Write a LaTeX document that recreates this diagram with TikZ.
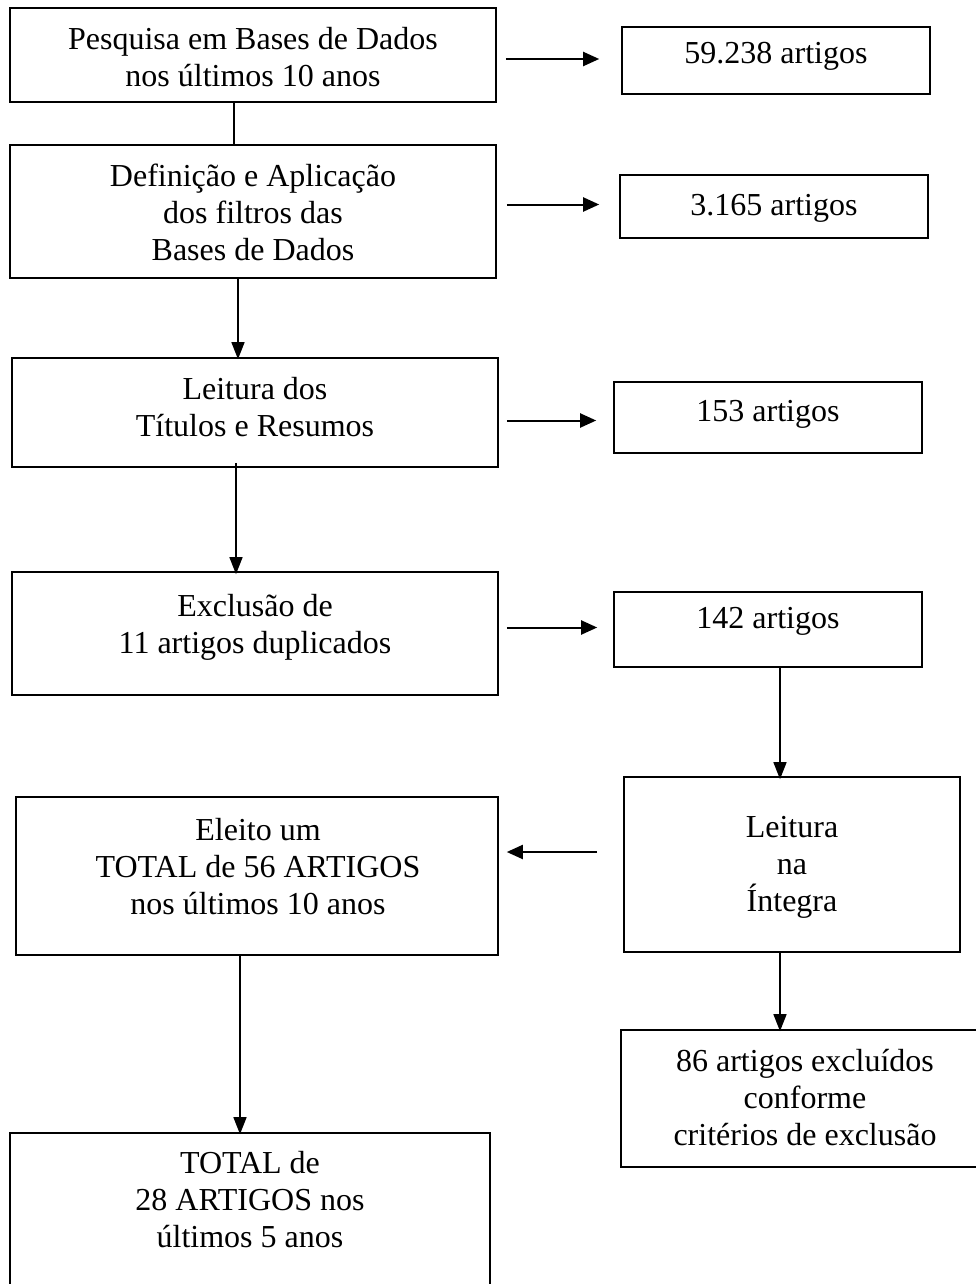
\documentclass[tikz,border=0pt]{standalone}
\usepackage{fontspec}
\setmainfont{Liberation Serif}
\usetikzlibrary{arrows.meta}
\begin{document}
\begin{tikzpicture}[x=1pt,y=-1pt,
  box/.style={draw,line width=1.6pt,inner sep=0pt},
  txt/.style={align=center,inner sep=0pt,font=\fontsize{32}{37}\selectfont},
  arr/.style={line width=1.4pt,-{Triangle[length=17pt,width=13pt]}},
  harr/.style={line width=2pt,-{Triangle[length=16pt,width=14pt]}},
  ln/.style={line width=1.4pt}]
\clip (0,0) rectangle (976,1284);
\useasboundingbox (0,0) rectangle (976,1284);
% boxes
\node[box,minimum width=486pt,minimum height=94pt] (b1) at (253,55) {};
\node[box,minimum width=308pt,minimum height=67pt] (n1) at (776,60.5) {};
\node[box,minimum width=486pt,minimum height=133pt] (b2) at (253,211.5) {};
\node[box,minimum width=308pt,minimum height=63pt] (n2) at (774,206.5) {};
\node[box,minimum width=486pt,minimum height=109pt] (b3) at (255,412.5) {};
\node[box,minimum width=308pt,minimum height=71pt] (n3) at (768,417.5) {};
\node[box,minimum width=486pt,minimum height=123pt] (b4) at (255,633.5) {};
\node[box,minimum width=308pt,minimum height=75pt] (n4) at (768,629.5) {};
\node[box,minimum width=336pt,minimum height=175pt] (b5) at (792,864.5) {};
\node[box,minimum width=482pt,minimum height=158pt] (b6) at (257,876) {};
\node[box,minimum width=480pt,minimum height=170pt] (b7) at (250,1218) {};
\node[box,minimum width=357pt,minimum height=137pt] (b8) at (799.5,1098.5) {};
% texts
\node[txt] (t1) at (253,57.5) {Pesquisa em Bases de Dados\\nos últimos 10 anos};
\node[txt] (tn1) at (776,56) {59.238 artigos};
\node[txt] (t2) at (253,212) {Definição e Aplicação\\ dos filtros das\\ Bases de Dados};
\node[txt] (tn2) at (774,208) {3.165 artigos};
\node[txt] (t3) at (255,407) {Leitura dos\\Títulos e Resumos};
\node[txt] (tn3) at (768,414) {153 artigos};
\node[txt] (t4) at (255,627) {Exclusão de\\11 artigos duplicados};
\node[txt] (tn4) at (768,621) {142 artigos};
\node[txt] (t5) at (792,867.5) {Leitura\\na\\Íntegra};
\node[txt] (t6) at (258,866.5) {Eleito um\\TOTAL de 56 ARTIGOS\\nos últimos 10 anos};
\node[txt] (t7) at (250,1199.5) {TOTAL de\\28 ARTIGOS nos\\últimos 5 anos};
\node[txt] (t8) at (805,1098) {86 artigos excluídos\\conforme\\critérios de exclusão};
% connectors
\draw[harr] ([xshift=9pt,yshift=1.5pt]b1.east |- n1.center) -- ([xshift=-22pt,yshift=1.5pt]n1.west);
\draw[ln] ([xshift=-19pt]b1.south) -- ([xshift=-19pt]b1.south |- b2.north);
\draw[harr] ([xshift=10pt,yshift=2pt]b2.east |- n2.center) -- ([xshift=-20pt,yshift=2pt]n2.west);
\draw[arr] ([xshift=-15pt]b2.south) -- ([xshift=-15pt,yshift=-2pt]b2.south |- b3.north);
\draw[harr] ([xshift=8pt,yshift=-3pt]b3.east |- n3.center) -- ([xshift=-17pt,yshift=-3pt]n3.west);
\draw[arr] ([xshift=-19pt,yshift=5pt]b3.south) -- ([xshift=-19pt,yshift=-3pt]b3.south |- b4.north);
\draw[harr] ([xshift=8pt,yshift=2pt]b4.east |- n4.center) -- ([xshift=-16pt,yshift=2pt]n4.west);
\draw[arr] ([xshift=12pt]n4.south) -- ([xshift=12pt,yshift=-3pt]n4.south |- b5.north);
\draw[harr] ([xshift=-26pt,yshift=12.5pt]b5.west) -- ([xshift=8pt,yshift=12.5pt]b6.east |- b5.west);
\draw[arr] ([xshift=-17pt]b6.south) -- ([xshift=-17pt,yshift=-2pt]b6.south |- b7.north);
\draw[arr] ([xshift=-12pt]b5.south) -- ([xshift=-12pt,yshift=-2pt]b5.south |- b8.north);
\end{tikzpicture}
\end{document}
